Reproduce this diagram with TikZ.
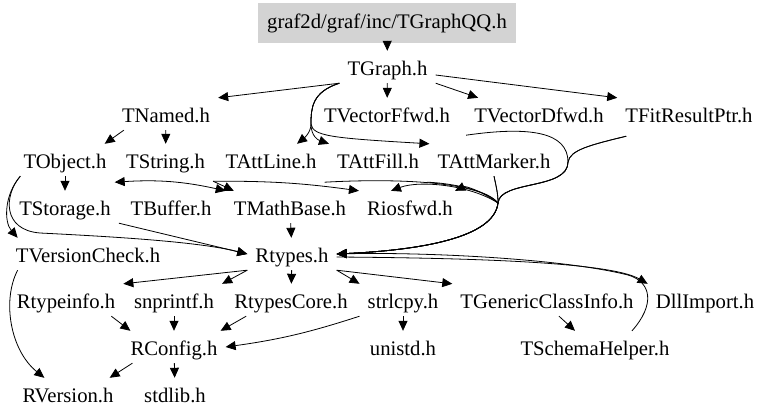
\documentclass[tikz,border=0pt]{standalone}
\usepackage{fontspec}
\setmainfont{Liberation Serif}
\usetikzlibrary{arrows.meta}
\definecolor{rootgray}{RGB}{211,211,211}

\begin{document}
\begin{tikzpicture}[x=1pt, y=-1pt, auto,
    hdr/.style={font=\fontsize{20.7}{24}\selectfont, text height=21pt, text depth=5pt,
      inner xsep=8pt, inner ysep=3pt, anchor=base},
    rootfile/.style={font=\fontsize{20.7}{24}\selectfont, fill=rootgray,
      minimum width=258pt, minimum height=40pt, inner sep=0pt},
    dep/.style={-{Triangle[length=10pt,width=9pt]}, line width=0.8pt},
    both/.style={{Triangle[length=10pt,width=9pt]}-{Triangle[length=10pt,width=9pt]}, line width=0.8pt}]
      \useasboundingbox (0,0) rectangle (768,420);
      \node[rootfile] (TGraphQQ) at (387,23) {graf2d/graf/inc/TGraphQQ.h};
      \node[hdr] (TGraph) at (387.5,75) {TGraph.h};
      \node[hdr] (TNamed) at (166,122) {TNamed.h};
      \node[hdr] (TVectorFfwd) at (387,122) {TVectorFfwd.h};
      \node[hdr] (TVectorDfwd) at (539,122) {TVectorDfwd.h};
      \node[hdr] (TFitResultPtr) at (689,122) {TFitResultPtr.h};
      \node[hdr] (TObject) at (65,168) {TObject.h};
      \node[hdr] (TString) at (165.5,168) {TString.h};
      \node[hdr] (TAttLine) at (271,168) {TAttLine.h};
      \node[hdr] (TAttFill) at (378,168) {TAttFill.h};
      \node[hdr] (TAttMarker) at (494,168) {TAttMarker.h};
      \node[hdr] (TStorage) at (65,215) {TStorage.h};
      \node[hdr] (TBuffer) at (171,215) {TBuffer.h};
      \node[hdr] (TMathBase) at (290,215) {TMathBase.h};
      \node[hdr] (Riosfwd) at (410,215) {Riosfwd.h};
      \node[hdr] (TVersionCheck) at (88,262) {TVersionCheck.h};
      \node[hdr] (Rtypes) at (292,262) {Rtypes.h};
      \node[hdr] (Rtypeinfo) at (66,308) {Rtypeinfo.h};
      \node[hdr] (snprintf) at (174,308) {snprintf.h};
      \node[hdr] (RtypesCore) at (291,308) {RtypesCore.h};
      \node[hdr] (strlcpy) at (403,308) {strlcpy.h};
      \node[hdr] (TGenericClassInfo) at (547,308) {TGenericClassInfo.h};
      \node[hdr] (DllImport) at (705,308) {DllImport.h};
      \node[hdr] (RConfig) at (174,355) {RConfig.h};
      \node[hdr] (unistd) at (403,355) {unistd.h};
      \node[hdr] (TSchemaHelper) at (595,355) {TSchemaHelper.h};
      \node[hdr] (RVersion) at (68,402) {RVersion.h};
      \node[hdr] (stdlib) at (175,402) {stdlib.h};
      \coordinate (fork) at (311,124);
      \coordinate (jA) at (568,162);
      \coordinate (jB) at (498,203);
      % TGraph
      \draw [dep] (TGraphQQ) to (TGraph);
      \draw [dep] (TGraph.south west) to (TNamed.north east);
      \draw [dep] (TGraph) to (TVectorFfwd);
      \draw [dep] (TGraph.south east) to ([xshift=12pt]TVectorDfwd.north west);
      \draw [dep] ([yshift=-8pt]TGraph.east) to (TFitResultPtr.north west);
      \draw [dep] (TGraph.south west) .. controls (312,92) and (311,108) .. (fork) .. controls (311,133) and (303,139) .. ([xshift=26pt]TAttLine.north);
      \draw [dep] (TGraph.south west) .. controls (312,92) and (311,108) .. (fork) .. controls (311,136) and (318,140) .. (TAttFill.north west);
      \draw [dep] (TGraph.south west) .. controls (312,92) and (311,108) .. (fork) .. controls (313,136) and (330,138) .. (TAttMarker.north west);
      % TNamed, TObject, TString
      \draw [dep] ([xshift=10pt]TNamed.south west) to ([xshift=-10pt]TObject.north east);
      \draw [dep] (TNamed) to (TString);
      \draw [dep] (TObject) to (TStorage);
      \draw [dep] ([xshift=5pt]TObject.south west) .. controls (4,195) and (4,222) .. ([xshift=10pt]TVersionCheck.north west);
      \draw [dep] ([xshift=5pt]TObject.south west) .. controls (4,195) and (2,230) .. (40,233) .. controls (120,237) and (200,242) .. (Rtypes.west);
      \draw [dep] (TStorage.south east) to (Rtypes.west);
      \draw [both] ([yshift=-6pt]TObject.south east) to[bend left=8] (TMathBase.north west);
      \draw [dep] ([yshift=-5pt]TString.south east) to ([xshift=8pt]TMathBase.north west);
      \draw [dep] ([yshift=-5pt]TString.south east) to[bend left=4] (Riosfwd.north west);
      % the brace into Rtypes
      \draw [dep] ([yshift=-5pt]TVectorDfwd.south west) .. controls (530,126) and (568,132) .. (jA) .. controls (568,190) and (500,180) .. (jB) .. controls (494,238) and (420,250) .. (Rtypes.east);
      \draw [dep] ([xshift=9pt,yshift=-6pt]TFitResultPtr.south west) .. controls (590,145) and (570,150) .. (jA) .. controls (568,190) and (500,180) .. (jB) .. controls (494,238) and (420,250) .. (Rtypes.east);
      \draw [dep] (TAttMarker.south) .. controls (497,190) and (498,195) .. (jB) .. controls (494,238) and (420,250) .. (Rtypes.east);
      \draw [dep] ([yshift=-6pt]TAttLine.south east) .. controls (400,178) and (480,182) .. (jB) .. controls (494,238) and (420,250) .. (Rtypes.east);
      \draw [dep] ([yshift=-6pt]TAttFill.south east) .. controls (450,183) and (488,190) .. (jB) .. controls (494,238) and (420,250) .. (Rtypes.east);
      \draw [dep] (TAttMarker.south) .. controls (497,190) and (498,195) .. (jB) .. controls (480,190) and (465,186) .. ([xshift=-6pt]Riosfwd.north east);
      \draw [dep] ([xshift=9pt,yshift=-6pt]TFitResultPtr.south west) .. controls (590,145) and (570,150) .. (jA) .. controls (568,190) and (500,180) .. (jB) .. controls (470,185) and (420,180) .. ([xshift=32pt]Riosfwd.north west);
      \draw [dep] (TMathBase) to (Rtypes);
      % TVersionCheck
      \draw [dep] ([xshift=10pt]TVersionCheck.south west) .. controls (2,300) and (10,350) .. ([xshift=30pt]RVersion.north west);
      % Rtypes
      \draw [dep] (Rtypes.south west) to (Rtypeinfo.north east);
      \draw [dep] (Rtypes.south west) to (snprintf.north east);
      \draw [dep] (Rtypes) to (RtypesCore);
      \draw [dep] (Rtypes.south east) to (strlcpy.north west);
      \draw [dep] (Rtypes.south east) to (TGenericClassInfo.north west);
      \draw [dep] ([yshift=-3pt]Rtypes.east) .. controls (470,258) and (610,262) .. (DllImport.north west);
      \draw [dep] ([xshift=37pt]TSchemaHelper.north) .. controls (655,305) and (652,282) .. (628,275) .. controls (560,258) and (420,252) .. (Rtypes.east);
      % RConfig
      \draw [dep] ([xshift=-12pt]Rtypeinfo.south east) to ([xshift=8pt]RConfig.north west);
      \draw [dep] (snprintf) to (RConfig);
      \draw [dep] ([xshift=20pt]RtypesCore.south west) to ([xshift=-5pt]RConfig.north east);
      \draw [dep] (strlcpy.south west) to[bend left=5] (RConfig.east);
      \draw [dep] (strlcpy) to (unistd);
      \draw [dep] ([xshift=12pt]TGenericClassInfo.south) to ([xshift=-20pt]TSchemaHelper.north);
      \draw [dep] ([xshift=10pt]RConfig.south west) to ([xshift=-12pt]RVersion.north east);
      \draw [dep] (RConfig) to (stdlib);
\end{tikzpicture}
\end{document}
